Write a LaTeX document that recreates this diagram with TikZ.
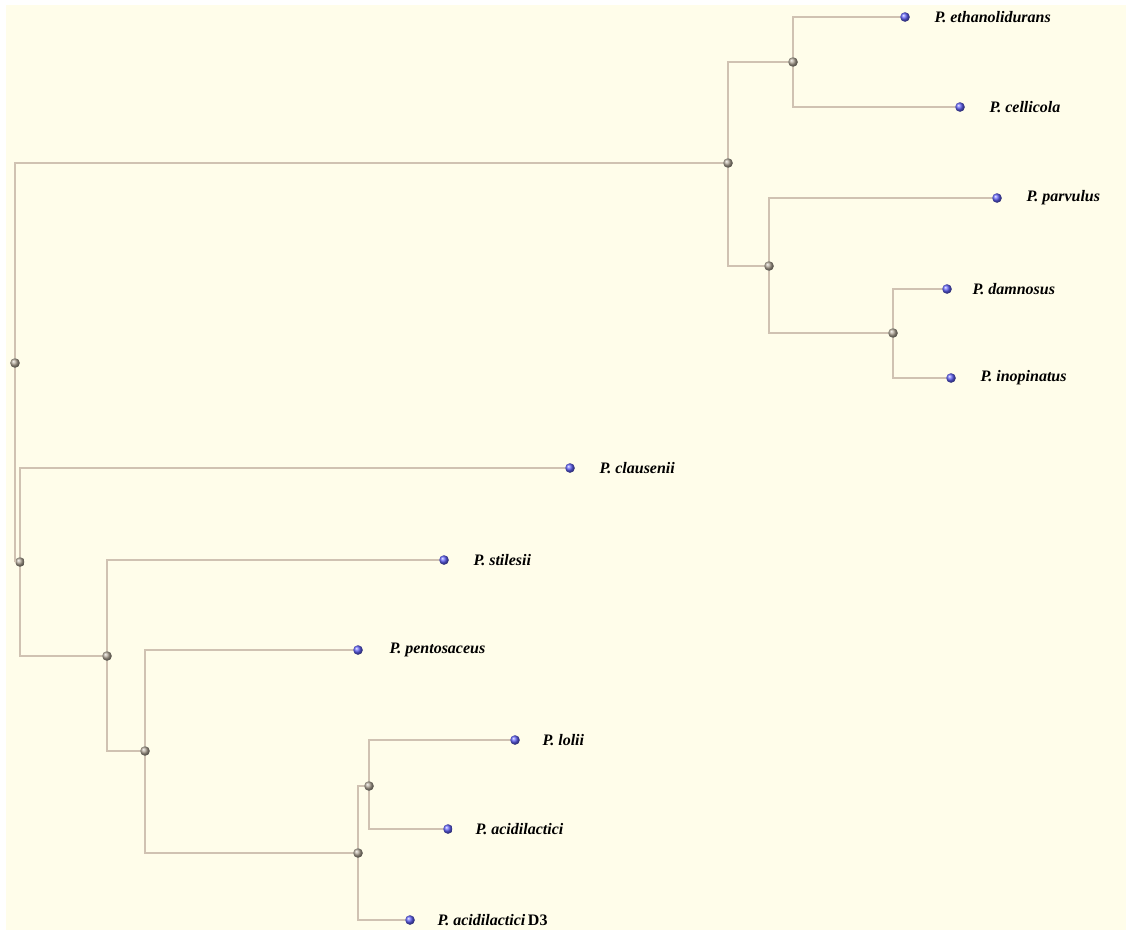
\documentclass[tikz,border=0pt]{standalone}
\usepackage{fontspec}
\setmainfont{Liberation Serif}
\usetikzlibrary{positioning,shadings}
\definecolor{cream}{RGB}{255,253,234}
\definecolor{branchc}{RGB}{208,194,178}
\definecolor{innerc}{RGB}{175,165,150}
\definecolor{leafc}{RGB}{95,95,245}
\begin{document}
\begin{tikzpicture}[x=0.5pt,y=-0.5pt,
every node/.style={circle,inner sep=0pt,minimum size=4.8pt},
inner/.style={shading=ball,ball color=innerc},
leaf/.style={shading=ball,ball color=leafc},
lab/.style={rectangle,font=\fontsize{8}{10}\selectfont\bfseries\itshape},
branch/.style={draw=branchc,line width=1pt}]
\fill[cream] (6,5) rectangle (1126,930);
\useasboundingbox (0,0) rectangle (1130,934);
\node[inner] (R) at (15,363) {};
\node[inner] (A) at (728,163) {};
\node[inner] (C) at (793,62) {};
\node[inner] (D) at (769,266) {};
\node[inner] (E) at (893,333) {};
\node[inner] (B) at (20,562) {};
\node[inner] (F) at (107,656) {};
\node[inner] (G) at (145,751) {};
\node[inner] (H) at (358,853) {};
\node[inner] (I) at (369,786) {};
\node[leaf] (Peth) at (905,17) {};
\node[leaf] (Pcel) at (960,107) {};
\node[leaf] (Ppar) at (997,198) {};
\node[leaf] (Pdam) at (947,289) {};
\node[leaf] (Pino) at (951,378) {};
\node[leaf] (Pcla) at (570,468) {};
\node[leaf] (Psti) at (444,560) {};
\node[leaf] (Ppen) at (358,650) {};
\node[leaf] (Plol) at (515,740) {};
\node[leaf] (Paci) at (448,829) {};
\node[leaf] (PD3) at (410,920) {};
\node[lab,right=12pt of Peth] (Leth) {P. ethanolidurans};
\node[lab,right=12pt of Pcel] (Lcel) {P. cellicola};
\node[lab,right=12pt of Ppar] (Lpar) {P. parvulus};
\node[lab,right=10pt of Pdam] (Ldam) {P. damnosus};
\node[lab,right=12pt of Pino] (Lino) {P. inopinatus};
\node[lab,right=12pt of Pcla] (Lcla) {P. clausenii};
\node[lab,right=12pt of Psti] (Lsti) {P. stilesii};
\node[lab,right=13pt of Ppen] (Lpen) {P. pentosaceus};
\node[lab,right=11pt of Plol] (Llol) {P. lolii};
\node[lab,right=11pt of Paci] (Laci) {P. acidilactici};
\node[lab,right=11pt of PD3] (LD3) {P. acidilactici\,\textup{D3}};
\draw[branch] (R) |- (A);
\draw[branch] (R) |- (B);
\draw[branch] (A) |- (C);
\draw[branch] (A) |- (D);
\draw[branch] (C) |- (Peth);
\draw[branch] (C) |- (Pcel);
\draw[branch] (D) |- (Ppar);
\draw[branch] (D) |- (E);
\draw[branch] (E) |- (Pdam);
\draw[branch] (E) |- (Pino);
\draw[branch] (B) |- (Pcla);
\draw[branch] (B) |- (F);
\draw[branch] (F) |- (Psti);
\draw[branch] (F) |- (G);
\draw[branch] (G) |- (Ppen);
\draw[branch] (G) |- (H);
\draw[branch] (H) |- (I);
\draw[branch] (H) |- (PD3);
\draw[branch] (I) |- (Plol);
\draw[branch] (I) |- (Paci);
\end{tikzpicture}
\end{document}
